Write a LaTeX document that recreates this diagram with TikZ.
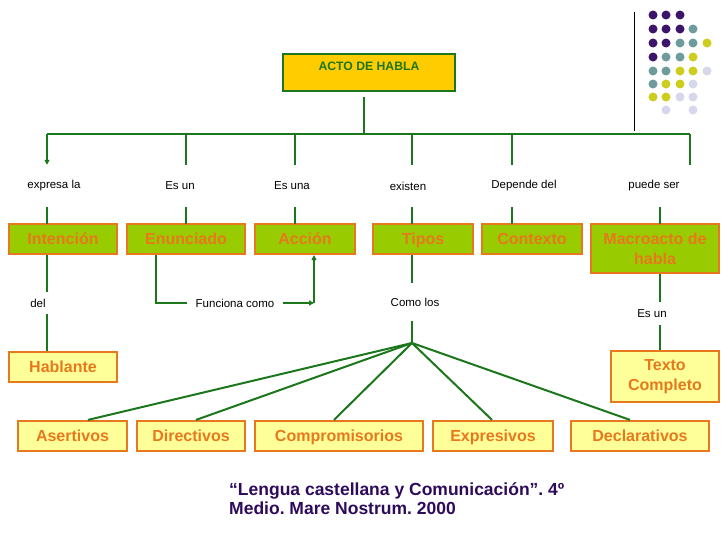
\documentclass[tikz,border=0pt]{standalone}
\usepackage{fontspec}
\setmainfont{Liberation Sans}
\usetikzlibrary{positioning,arrows.meta,calc}
\usepackage{xcolor}
\definecolor{linegreen}{RGB}{28,118,28}
\definecolor{actogold}{RGB}{255,204,0}
\definecolor{conceptgreen}{RGB}{153,204,0}
\definecolor{boxorange}{RGB}{232,120,30}
\definecolor{leafyellow}{RGB}{255,255,153}
\definecolor{citepurple}{RGB}{46,10,90}
\definecolor{dotP}{RGB}{60,20,105}
\definecolor{dotT}{RGB}{110,155,155}
\definecolor{dotY}{RGB}{205,205,30}
\definecolor{dotL}{RGB}{215,215,235}
\frenchspacing

\begin{document}
\begin{tikzpicture}[
  x=1pt, y=-1pt,
  mainbox/.style={draw=linegreen, line width=2.2pt, fill=actogold, text=linegreen,
    font=\fontsize{12.2}{14}\selectfont\bfseries, minimum width=172pt,
    inner ysep=4pt, text height=12pt, text depth=17pt},
  concept/.style={draw=boxorange, line width=2.2pt, fill=conceptgreen, text=boxorange,
    font=\fontsize{16}{20}\selectfont\bfseries, minimum height=30pt,
    align=center, inner sep=0pt},
  flat/.style={text height=11.5pt, text depth=1.5pt},
  leaf/.style={concept, fill=leafyellow},
  lbl/.style={font=\fontsize{11.5}{13}\selectfont, inner xsep=7pt, inner ysep=0pt},
  wire/.style={draw=linegreen, line width=2.2pt},
  tip/.style={-{Triangle[length=5pt,width=5pt]}}
]
  \useasboundingbox (0,0) rectangle (728,546);

  % Root
  \node[mainbox] (acto) at (369,72.5) {ACTO DE HABLA};

  % First level concepts
  \node[concept, flat, minimum width=108pt] (intencion) at (63,239) {Intención};
  \node[concept, flat, minimum width=118pt] (enunciado) at (186,239) {Enunciado};
  \node[concept, flat, minimum width=100pt] (accion) at (305,239) {Acción};
  \node[concept, flat, minimum width=100pt] (tipos) at (423,239) {Tipos};
  \node[concept, flat, minimum width=100pt] (contexto) at (532,239) {Contexto};
  \node[concept, minimum width=128pt, minimum height=49pt] (macro) at (655,248.5) {Macroacto de\\habla};

  % Leaves
  \node[leaf, flat, minimum width=108pt] (hablante) at (63,367) {Hablante};
  \node[leaf, minimum width=108pt, minimum height=51pt] (texto) at (665,376.5) {Texto\\Completo};
  \node[leaf, flat, minimum width=109pt] (asertivos) at (72.5,436) {Asertivos};
  \node[leaf, flat, minimum width=108pt] (directivos) at (191,436) {Directivos};
  \node[leaf, flat, minimum width=168pt] (compromisorios) at (339,436) {Compromisorios};
  \node[leaf, flat, minimum width=120pt] (expresivos) at (493,436) {Expresivos};
  \node[leaf, flat, minimum width=138pt] (declarativos) at (640,436) {Declarativos};

  % Link words
  \node[lbl, minimum height=42pt] (l1) at (54,186) {expresa la};
  \node[lbl, minimum height=42pt] (l2) at (180,186) {Es un};
  \node[lbl, minimum height=42pt] (l3) at (292,186) {Es una};
  \node[lbl, minimum height=42pt] (l4) at (408,186) {existen};
  \node[lbl, minimum height=42pt] (l5) at (524,186) {Depende del};
  \node[lbl, minimum height=42pt] (l6) at (654,186) {puede ser};
  \node[lbl, minimum height=21pt] (ldel) at (38,303) {del};
  \node[lbl, inner xsep=8pt] (lfunc) at (235,303) {Funciona como};
  \node[lbl, minimum height=37pt] (lcomo) at (415,302) {Como los};
  \node[lbl, minimum height=23pt] (les) at (652,313.5) {Es un};

  % Bus under the root
  \coordinate (bus) at (364,134);
  \coordinate (b1) at (47,134);
  \coordinate (b6) at (690,134);
  \draw[wire, shorten <=5pt] (acto.south -| bus) -- (bus);
  \draw[wire] (b1) -- (b6);
  \draw[wire, tip] (b1) -- (b1 |- l1.north);
  \foreach \x/\l in {186/l2, 295/l3, 412/l4, 512/l5, 690/l6}
    \draw[wire] (\x,134) -- (\x,0 |- \l.north);

  % Link words down to concepts
  \foreach \x/\l in {47/l1, 186/l2, 295/l3, 412/l4, 512/l5, 660/l6}
    \draw[wire] (\x,0 |- \l.south) -- (\x,0 |- 0,224);

  % Intencion -> Hablante
  \draw[wire] (47,0 |- intencion.south) -- (47,0 |- ldel.north);
  \draw[wire] (47,0 |- ldel.south) -- (47,0 |- hablante.north);

  % Enunciado -> Accion
  \coordinate (f1) at (156,303);
  \coordinate (f2) at (314,303);
  \draw[wire] (f1 |- enunciado.south) -- (f1) -- (lfunc.west);
  \draw[wire, tip] (lfunc.east) -- (f2);
  \draw[wire, tip] (f2) -- (f2 |- accion.south);

  % Tipos -> kinds
  \coordinate (hub) at (412,343);
  \draw[wire] (tipos.south -| hub) -- (lcomo.north -| hub);
  \draw[wire] (lcomo.south -| hub) -- (hub);
  \foreach \x/\n in {88/asertivos, 196/directivos, 334/compromisorios, 492/expresivos, 630/declarativos}
    \draw[wire, line width=2pt] (hub) -- (\x,0 |- \n.north);

  % Macroacto -> Texto
  \draw[wire] (660,0 |- macro.south) -- (660,0 |- les.north);
  \draw[wire] (660,0 |- les.south) -- (660,0 |- texto.north);

  % Source
  \node[anchor=base west, align=left, text=citepurple, inner sep=0pt,
    font=\fontsize{17.5}{19}\selectfont\bfseries] (cite) at (229,514)
    {“Lengua castellana y Comunicación”. 4º\\Medio. Mare Nostrum. 2000};

  % Corner ornament
  \draw[black, line width=1pt] (634,12) -- (634,131);
  \foreach \x/\y/\c in {653/15/dotP, 666/15/dotP, 680/15/dotP,
      653/29/dotP, 666/29/dotP, 680/29/dotP, 693/29/dotT,
      653/43/dotP, 666/43/dotP, 680/43/dotT, 693/43/dotT, 707/43/dotY,
      653/57/dotP, 666/57/dotT, 680/57/dotT, 693/57/dotY,
      653/71/dotT, 666/71/dotT, 680/71/dotY, 693/71/dotY, 707/71/dotL,
      653/84/dotT, 666/84/dotY, 680/84/dotY, 693/84/dotL,
      653/97/dotY, 666/97/dotY, 680/97/dotL, 693/97/dotL,
      666/110/dotL, 693/110/dotL}
    \fill[\c] (\x,\y) circle (4.5pt);
\end{tikzpicture}
\end{document}
